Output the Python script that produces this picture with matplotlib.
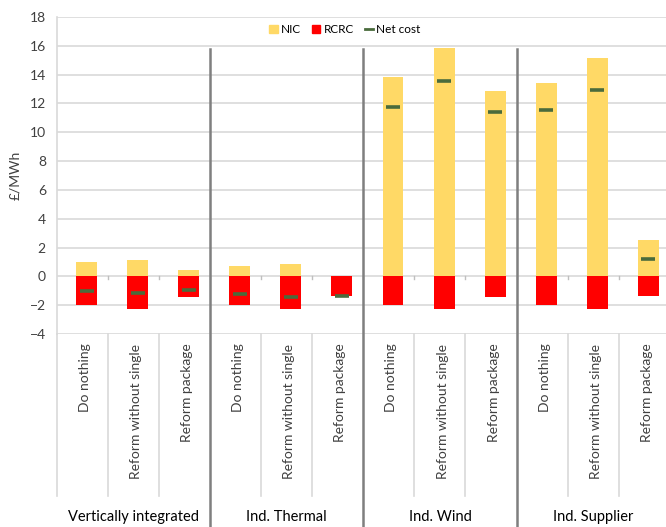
import matplotlib
matplotlib.use("Agg")
import matplotlib.pyplot as plt
import matplotlib.transforms as mtransforms
from matplotlib.lines import Line2D
from matplotlib.patches import Patch
import numpy as np

plt.rcParams['font.family'] = ['Lato', 'DejaVu Sans']

groups = ["Vertically integrated", "Ind. Thermal", "Ind. Wind", "Ind. Supplier"]
scenarios = ["Do nothing", "Reform without single", "Reform package"]

nic = [1.03, 1.17, 0.47,
       0.75, 0.87, 0.05,
       13.8, 15.84, 12.83,
       13.43, 15.14, 2.5]
rcrc = [-2.0, -2.28, -1.42,
        -1.98, -2.26, -1.37,
        -2.01, -2.27, -1.43,
        -1.99, -2.24, -1.34]
net_cost = [-0.98, -1.12, -0.91,
            -1.21, -1.42, -1.33,
            11.77, 13.53, 11.42,
            11.51, 12.92, 1.18]

nic_color = '#FFD966'
rcrc_color = '#FF0000'
net_color = '#4A6B3C'
grid_color = '#D9D9D9'
text_color = '#404040'

fig = plt.figure(figsize=(6.66, 5.27), dpi=100)
ax = fig.add_axes([0.0856, 0.366, 0.92, 0.602])

x = np.arange(len(nic)) + 0.08
ax.bar(x, nic, width=0.41, color=nic_color, zorder=3)
ax.bar(x, rcrc, width=0.41, color=rcrc_color, zorder=3)
ax.plot(x, net_cost, linestyle='none', marker='_', markersize=10,
        markeredgewidth=2.6, color=net_color, zorder=4)

ax.set_xlim(-0.5, 11.5)
ax.set_ylim(-4, 18)
ax.set_yticks(range(-4, 19, 2))
ax.tick_params(axis='y', length=0, labelsize=10, labelcolor=text_color, pad=8)
ax.set_xticks([])
ax.grid(axis='y', color=grid_color, linewidth=1.2, zorder=0)
for s in ['top', 'right', 'bottom']:
    ax.spines[s].set_visible(False)
ax.spines['left'].set_color(grid_color)
ax.spines['left'].set_linewidth(1.2)
ax.set_ylabel("£/MWh", fontsize=10, color=text_color, labelpad=6)

# small ticks on the zero line
trans = mtransforms.blended_transform_factory(ax.transData, ax.transAxes)
for b in np.arange(0.5, 11.5, 1.0):
    ax.plot([b, b], [0, -0.15], color='#BFBFBF', linewidth=1, zorder=2)

# category axis below the plot
for i, xi in enumerate(np.arange(len(nic))):
    ax.text(xi + 0.05, -0.03, scenarios[i % 3], rotation=90, ha='center', va='top',
            fontsize=10, color=text_color, transform=trans, clip_on=False)
for b in np.arange(-0.5, 12, 1.0):
    if b in (2.5, 5.5, 8.5):
        continue
    ax.plot([b, b], [0, -0.51], color=grid_color, linewidth=1.2,
            transform=trans, clip_on=False)
for g, name in enumerate(groups):
    ax.text(g * 3 + 1, -0.578, name, ha='center', va='center',
            fontsize=10.5, color='#000000', transform=trans, clip_on=False)
for b in (2.5, 5.5, 8.5):
    ax.plot([b, b], [(15.8 + 4) / 22, -0.7], color='#7F7F7F', linewidth=1.8,
            transform=trans, clip_on=False, zorder=5)

handles = [Patch(color=nic_color, label='NIC'),
           Patch(color=rcrc_color, label='RCRC'),
           Line2D([], [], color=net_color, linewidth=2, label='Net cost')]
ax.legend(handles=handles, loc='upper center', bbox_to_anchor=(0.47, 1.0),
          ncol=3, frameon=False, fontsize=8.5, handlelength=0.7,
          handleheight=0.7, handletextpad=0.3, columnspacing=0.9,
          borderaxespad=0.2)

fig.savefig('out.png', dpi=100)
